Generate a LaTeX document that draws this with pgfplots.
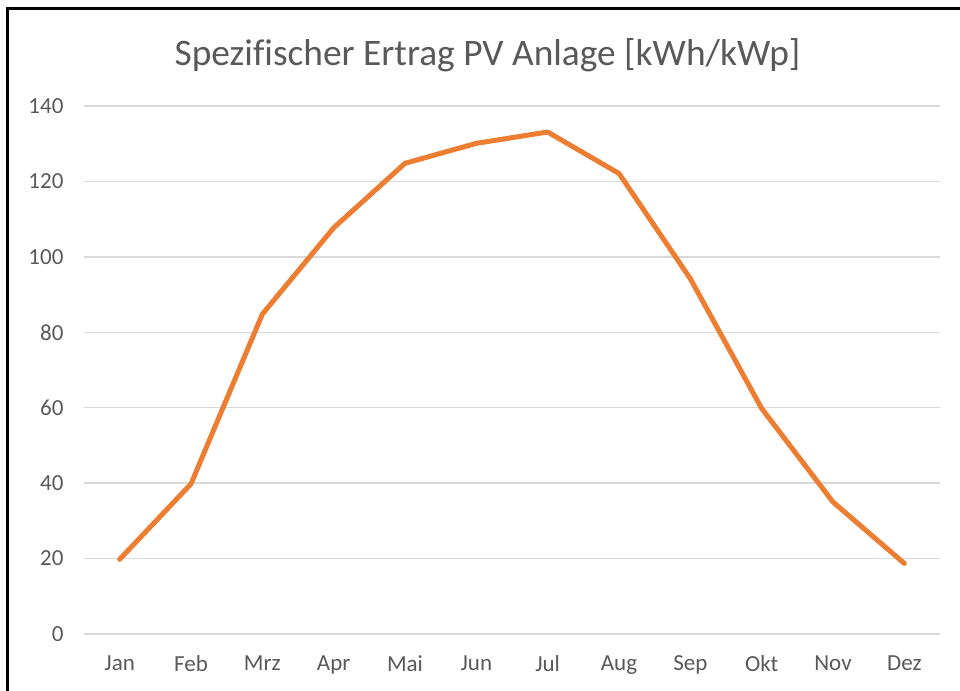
\documentclass[border=0pt]{standalone}
\usepackage{pgfplots}
\pgfplotsset{compat=1.18}
\usepackage{fontspec}
\setmainfont{Carlito}[Ligatures=CommonOff]
\definecolor{txt}{HTML}{595959}
\definecolor{gridc}{HTML}{D9D9D9}
\definecolor{orng}{HTML}{ED7D31}
\begin{document}
\begin{tikzpicture}[x=1pt,y=1pt]
\useasboundingbox (0,0) rectangle (960,690);
\draw[line width=3pt,black] (7.5,-5) -- (7.5,681.5) -- (965,681.5);
\node[anchor=base,text=txt,font=\fontsize{37.4}{42}\selectfont] at (487.5,624) {Spezifischer Ertrag PV Anlage [kWh/kWp]};
\begin{axis}[
  at={(84pt,56pt)}, anchor=south west,
  scale only axis, width=856pt, height=528pt,
  xmin=-0.5, xmax=11.5, ymin=0, ymax=140,
  axis line style={draw=none},
  xtick={0,...,11},
  xticklabels={Jan,Feb,Mrz,Apr,Mai,Jun,Jul,Aug,Sep,Okt,Nov,Dez},
  ytick={0,20,...,140},
  major tick length=0pt,
  xmajorgrids=false, ymajorgrids=true,
  major grid style={draw=gridc, line width=1.5pt},
  tick label style={text=txt, font=\fontsize{23}{26}\selectfont},
  /pgf/number format/assume math mode=true,
  yticklabel style={xshift=-17pt},
  xticklabel style={yshift=-18pt},
  clip=false,
]
\addplot[orng, line width=5pt, line join=round, line cap=round] coordinates {
(0,19.8) (1,39.8) (2,84.8) (3,107.7) (4,124.8) (5,130.1) (6,133.1) (7,122.1) (8,94.2) (9,59.8) (10,35.0) (11,18.7)
};
\end{axis}
\end{tikzpicture}
\end{document}
